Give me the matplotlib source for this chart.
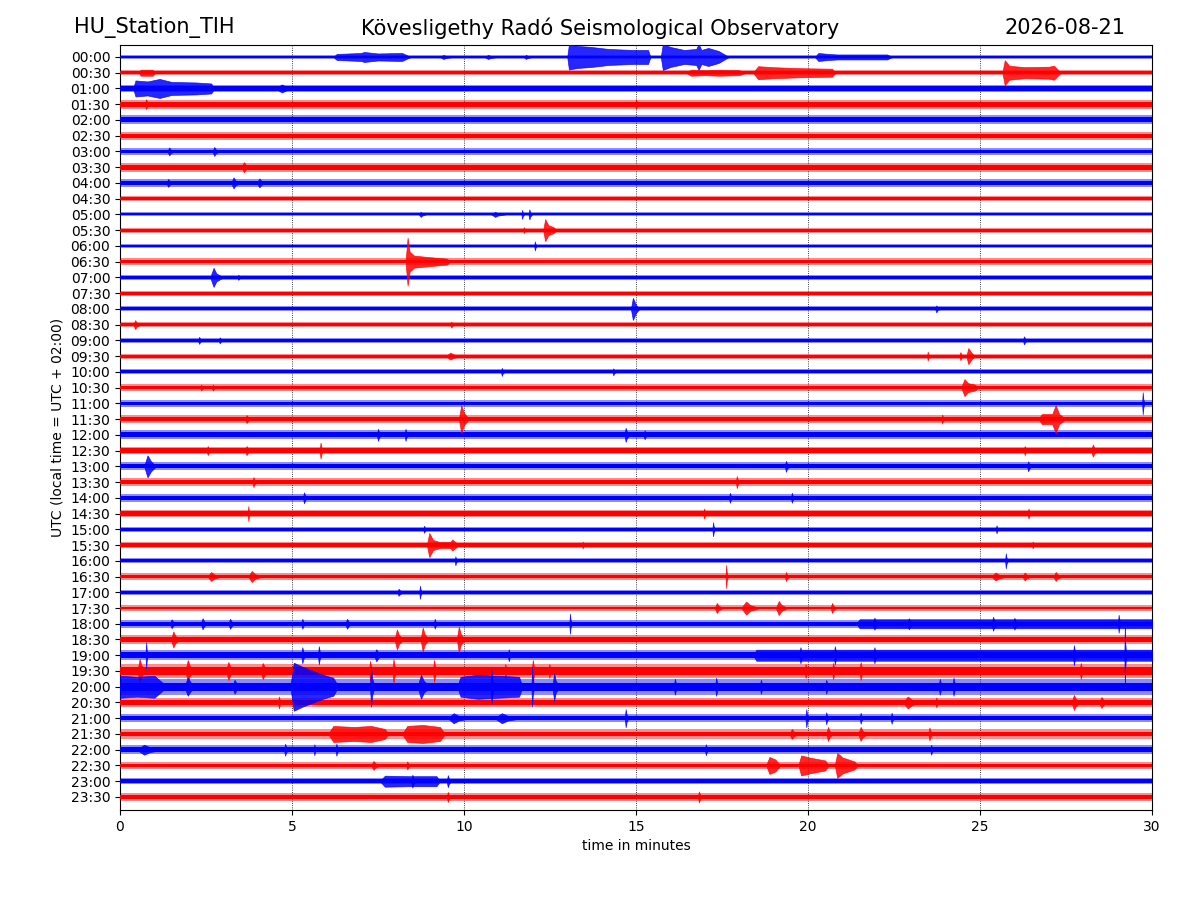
import matplotlib
matplotlib.use("Agg")
import matplotlib.pyplot as plt
import numpy as np

# ---------------- data ----------------
ROW_LABELS = ["00:00", "00:30", "01:00", "01:30", "02:00", "02:30", "03:00", "03:30",
              "04:00", "04:30", "05:00", "05:30", "06:00", "06:30", "07:00", "07:30",
              "08:00", "08:30", "09:00", "09:30", "10:00", "10:30", "11:00", "11:30",
              "12:00", "12:30", "13:00", "13:30", "14:00", "14:30", "15:00", "15:30",
              "16:00", "16:30", "17:00", "17:30", "18:00", "18:30", "19:00", "19:30",
              "20:00", "20:30", "21:00", "21:30", "22:00", "22:30", "23:00", "23:30"]

# typical background noise half-amplitude of each trace (trace units)
NOISE = [1.5, 2.0, 3.0, 3.5, 3.5, 3.0, 2.5, 3.5,
         3.0, 2.0, 1.5, 2.0, 1.5, 2.5, 2.0, 2.0,
         2.0, 2.0, 2.0, 2.0, 2.0, 2.5, 2.5, 3.0,
         3.5, 3.0, 3.0, 3.0, 3.0, 3.0, 2.0, 2.5,
         2.0, 2.5, 2.0, 2.0, 3.0, 3.5, 4.0, 5.5,
         6.0, 3.5, 3.0, 3.5, 3.5, 2.5, 2.5, 3.0]

# short bursts: (row, onset minute, duration in minutes, peak half-amplitude)
BURSTS = [
    ("00:00", 9.4, 0.3, 2), ("00:00", 10.7, 0.3, 2), ("00:00", 11.8, 0.2, 2),
    ("01:00", 4.7, 0.5, 4),
    ("01:30", 0.76, 0.1, 5), ("01:30", 15.0, 0.1, 4.5),
    ("03:00", 2.74, 0.15, 4.5), ("03:00", 1.43, 0.15, 4),
    ("03:30", 3.6, 0.2, 5),
    ("04:00", 3.3, 0.2, 5.5), ("04:00", 4.05, 0.2, 4.5), ("04:00", 1.4, 0.15, 4),
    ("05:00", 8.74, 0.15, 2.5), ("05:00", 10.9, 0.3, 2.5), ("05:00", 11.69, 0.06, 4.5),
    ("05:00", 11.9, 0.08, 5),
    ("05:30", 11.74, 0.06, 3),
    ("06:00", 12.06, 0.06, 4.5),
    ("07:00", 3.44, 0.1, 2.5),
    ("08:00", 23.73, 0.1, 3.5),
    ("08:30", 0.44, 0.15, 4.5), ("08:30", 9.63, 0.1, 3),
    ("09:00", 2.3, 0.1, 3.5), ("09:00", 2.9, 0.1, 3), ("09:00", 26.28, 0.1, 4),
    ("09:30", 9.6, 0.35, 3.5), ("09:30", 23.48, 0.06, 4.5), ("09:30", 24.43, 0.1, 4),
    ("10:00", 11.1, 0.08, 4), ("10:00", 14.34, 0.08, 3.5),
    ("10:30", 2.36, 0.1, 3), ("10:30", 2.7, 0.1, 3),
    ("11:00", 29.73, 0.05, 11),
    ("11:30", 3.68, 0.15, 4), ("11:30", 23.9, 0.08, 4.5),
    ("12:00", 7.5, 0.1, 6), ("12:00", 8.3, 0.08, 6), ("12:00", 14.7, 0.12, 7),
    ("12:00", 15.25, 0.1, 4.5),
    ("12:30", 5.83, 0.08, 8), ("12:30", 28.28, 0.15, 6), ("12:30", 26.3, 0.1, 4.5),
    ("12:30", 3.68, 0.15, 4.5), ("12:30", 2.55, 0.1, 4.5),
    ("13:00", 19.36, 0.1, 5.5), ("13:00", 26.4, 0.1, 5),
    ("13:30", 3.88, 0.1, 5), ("13:30", 17.93, 0.08, 6),
    ("14:00", 5.35, 0.1, 5.5), ("14:00", 17.73, 0.08, 5), ("14:00", 19.53, 0.08, 5),
    ("14:30", 3.73, 0.05, 7.5), ("14:30", 26.41, 0.08, 5), ("14:30", 16.98, 0.08, 5),
    ("15:00", 17.24, 0.06, 7), ("15:00", 8.84, 0.08, 3.5), ("15:00", 25.48, 0.06, 4),
    ("15:30", 13.45, 0.06, 3.5), ("15:30", 26.53, 0.06, 3.5),
    ("16:00", 25.75, 0.06, 7.5), ("16:00", 9.75, 0.06, 4.5),
    ("16:30", 2.65, 0.3, 4.5), ("16:30", 3.83, 0.3, 5.5), ("16:30", 17.62, 0.05, 11.5),
    ("16:30", 19.36, 0.1, 4.5), ("16:30", 25.45, 0.35, 4), ("16:30", 26.3, 0.2, 4),
    ("16:30", 27.2, 0.2, 4.5),
    ("17:00", 8.72, 0.06, 6.5), ("17:00", 8.1, 0.15, 3.5),
    ("17:30", 17.35, 0.18, 5), ("17:30", 18.2, 0.4, 6.5), ("17:30", 19.15, 0.25, 7),
    ("17:30", 20.7, 0.13, 5),
    ("18:00", 1.5, 0.15, 4.5), ("18:00", 2.4, 0.15, 5.5), ("18:00", 3.2, 0.15, 5),
    ("18:00", 5.3, 0.1, 5), ("18:00", 6.6, 0.15, 5), ("18:00", 9.15, 0.08, 5),
    ("18:00", 13.08, 0.05, 10), ("18:00", 21.93, 0.15, 6), ("18:00", 22.93, 0.15, 5.5),
    ("18:00", 25.38, 0.12, 7), ("18:00", 26.0, 0.12, 6), ("18:00", 29.03, 0.06, 9),
    ("18:30", 1.55, 0.2, 8), ("18:30", 8.05, 0.2, 10), ("18:30", 8.8, 0.18, 12),
    ("18:30", 9.85, 0.17, 13),
    ("19:00", 0.76, 0.05, 13), ("19:00", 5.3, 0.1, 8), ("19:00", 5.78, 0.08, 9),
    ("19:00", 7.45, 0.2, 6), ("19:00", 11.3, 0.08, 6), ("19:00", 19.78, 0.1, 8),
    ("19:00", 20.78, 0.1, 9), ("19:00", 21.93, 0.1, 8), ("19:00", 27.73, 0.08, 10),
    ("19:00", 29.21, 0.04, 28),
    ("19:30", 0.57, 0.18, 12), ("19:30", 1.97, 0.2, 11), ("19:30", 3.15, 0.2, 9),
    ("19:30", 4.15, 0.2, 8), ("19:30", 7.27, 0.1, 10), ("19:30", 7.95, 0.1, 12),
    ("19:30", 9.13, 0.1, 11), ("19:30", 11.2, 0.08, 7), ("19:30", 12.0, 0.1, 11),
    ("19:30", 12.48, 0.08, 7), ("19:30", 19.93, 0.1, 7), ("19:30", 20.73, 0.1, 8),
    ("19:30", 21.53, 0.1, 9), ("19:30", 27.93, 0.1, 8),
    ("20:00", 1.97, 0.3, 9), ("20:00", 3.33, 0.2, 7), ("20:00", 7.3, 0.1, 20),
    ("20:00", 8.75, 0.3, 12), ("20:00", 10.8, 0.08, 17), ("20:00", 11.98, 0.06, 20),
    ("20:00", 12.62, 0.15, 14), ("20:00", 16.13, 0.1, 8), ("20:00", 17.33, 0.1, 9),
    ("20:00", 18.63, 0.1, 7), ("20:00", 20.53, 0.1, 7), ("20:00", 23.83, 0.1, 8),
    ("20:00", 24.23, 0.1, 9),
    ("20:30", 4.62, 0.08, 6), ("20:30", 22.9, 0.4, 6), ("20:30", 23.73, 0.08, 5),
    ("20:30", 27.73, 0.2, 7.5), ("20:30", 28.53, 0.2, 5.5),
    ("21:00", 9.7, 0.5, 5), ("21:00", 11.1, 0.6, 5), ("21:00", 14.7, 0.08, 9),
    ("21:00", 19.95, 0.08, 9), ("21:00", 20.53, 0.08, 6), ("21:00", 21.53, 0.08, 5.5),
    ("21:00", 22.43, 0.08, 5.5),
    ("21:30", 19.53, 0.2, 5), ("21:30", 20.58, 0.15, 7), ("21:30", 21.53, 0.2, 7),
    ("21:30", 23.53, 0.1, 6.5),
    ("22:00", 0.7, 0.6, 5), ("22:00", 4.8, 0.1, 6), ("22:00", 5.65, 0.06, 5.5),
    ("22:00", 6.29, 0.08, 6), ("22:00", 17.03, 0.08, 5.5), ("22:00", 23.58, 0.08, 5),
    ("22:30", 7.37, 0.2, 4.5), ("22:30", 8.35, 0.1, 4),
    ("23:00", 8.5, 0.1, 6.5), ("23:00", 9.53, 0.1, 6),
    ("23:30", 9.53, 0.1, 5), ("23:30", 16.83, 0.1, 5.5),
]

# longer events: (row, envelope nodes [(minute, half-amplitude), ...])
EVENTS = [
    ("00:00", [(6.2, 0), (6.3, 3), (7.0, 4), (7.1, 5), (7.5, 3.5), (8.2, 4), (8.45, 0)]),
    ("00:00", [(13.0, 0), (13.05, 12.5), (13.3, 11), (13.7, 10), (14.2, 8), (14.9, 7),
               (15.35, 7), (15.42, 0)]),
    ("00:00", [(15.72, 0), (15.78, 13), (16.0, 10), (16.4, 7), (16.75, 8), (16.82, 13),
               (16.9, 7), (17.1, 9), (17.4, 6), (17.7, 0)]),
    ("00:00", [(20.2, 0), (20.3, 4), (20.6, 3), (20.85, 2.5), (22.3, 2.5), (22.45, 0)]),
    ("00:30", [(0.55, 0), (0.6, 3), (0.95, 3), (1.02, 0)]),
    ("00:30", [(16.45, 0), (16.6, 3), (17.0, 2.5), (17.4, 3), (18.0, 2.5), (18.2, 0)]),
    ("00:30", [(18.4, 0), (18.55, 6.5), (19.0, 5.5), (19.8, 4.5), (20.7, 4), (20.8, 0)]),
    ("00:30", [(25.65, 0), (25.72, 12.5), (25.85, 7), (26.3, 5.5), (27.0, 6), (27.15, 7),
               (27.35, 0)]),
    ("01:00", [(0.38, 0), (0.45, 8), (0.8, 7), (1.15, 9.5), (1.5, 6.5), (2.2, 6),
               (2.65, 5), (2.75, 0)]),
    ("05:30", [(12.3, 0), (12.36, 11), (12.45, 5), (12.6, 3), (12.7, 0)]),
    ("06:30", [(8.3, 0), (8.36, 24), (8.42, 10), (8.55, 6), (9.0, 4.5), (9.5, 3), (9.6, 0)]),
    ("07:00", [(2.62, 0), (2.72, 9.5), (2.8, 4), (3.0, 0)]),
    ("08:00", [(14.85, 0), (14.91, 11), (15.0, 4), (15.1, 0)]),
    ("09:30", [(24.6, 0), (24.66, 8), (24.75, 3.5), (24.85, 0)]),
    ("10:30", [(24.45, 0), (24.55, 8.5), (24.65, 4.5), (24.85, 3), (24.95, 0)]),
    ("11:30", [(9.85, 0), (9.92, 14), (10.0, 6), (10.15, 0)]),
    ("11:30", [(26.7, 0), (26.8, 5), (27.1, 5), (27.2, 14), (27.3, 5), (27.5, 0)]),
    ("13:00", [(0.7, 0), (0.8, 11), (0.9, 5), (1.05, 0)]),
    ("15:30", [(8.92, 0), (8.99, 12), (9.1, 5), (9.3, 3), (9.6, 3), (9.66, 5.5),
               (9.75, 3), (9.85, 0)]),
    ("18:00", [(21.4, 0), (21.5, 4.5), (30.0, 4.5)]),
    ("19:00", [(18.4, 0), (18.5, 5.5), (30.0, 5.5)]),
    ("20:00", [(0.0, 11), (0.5, 10), (1.0, 11), (1.37, 0)]),
    ("20:00", [(4.95, 0), (5.05, 24), (5.3, 20), (5.6, 16), (5.9, 12), (6.2, 9), (6.35, 0)]),
    ("20:00", [(9.8, 0), (9.9, 10), (10.4, 12), (11.0, 11), (11.6, 10), (11.7, 0)]),
    ("21:30", [(6.05, 0), (6.2, 8), (6.8, 7), (7.3, 8), (7.7, 5), (7.8, 0)]),
    ("21:30", [(8.2, 0), (8.35, 8), (8.8, 9), (9.3, 7), (9.45, 0)]),
    ("22:30", [(18.78, 0), (18.88, 8.5), (19.05, 6), (19.2, 0)]),
    ("22:30", [(19.72, 0), (19.8, 10), (20.1, 7.5), (20.5, 5), (20.6, 0)]),
    ("22:30", [(20.78, 0), (20.85, 12.5), (21.0, 8), (21.35, 4), (21.45, 0)]),
    ("23:00", [(7.55, 0), (7.7, 5.5), (8.4, 5), (9.2, 5), (9.3, 0)]),
]

X_TICKS = [0, 5, 10, 15, 20, 25, 30]
TITLE_LEFT = "HU_Station_TIH"
TITLE_MID = "Kövesligethy Radó Seismological Observatory"
TITLE_RIGHT = "2026-08-21"

# ---------------- drawing ----------------
COLORS = ["#0000ff", "#ff0000"]
UNIT = 1.0 / 15.74          # trace units -> row spacing
DURATION = 30.0

fig = plt.figure(figsize=(12, 9), dpi=100)
ax = fig.add_axes([0.1, 0.1, 0.86, 0.85])

row_index = {lab: i for i, lab in enumerate(ROW_LABELS)}


def draw_envelope(i, t, e, c):
    ax.fill_between(t, [i - v for v in e], [i + v for v in e], color=c, alpha=0.85,
                    linewidth=0.5, edgecolor=c, zorder=4)


for i, lab in enumerate(ROW_LABELS):
    c = COLORS[i % 2]
    a = NOISE[i] * UNIT
    ax.fill_between([0, DURATION], i - 1.3 * a, i + 1.3 * a, color=c, alpha=0.45,
                    linewidth=0, zorder=2)
    ax.fill_between([0, DURATION], i - 0.7 * a, i + 0.7 * a, color=c, alpha=1.0,
                    linewidth=0, zorder=3)

for lab, t0, hw, amp in BURSTS:
    i = row_index[lab]
    # seismic-burst glyph: sharp onset, decaying coda
    t = [t0 - 0.35 * hw, t0, t0 + 0.3 * hw, t0 + hw]
    e = [0, amp * UNIT, 0.45 * amp * UNIT, 0]
    draw_envelope(i, t, e, COLORS[i % 2])

for lab, nodes in EVENTS:
    i = row_index[lab]
    t = [n[0] for n in nodes]
    e = [n[1] * UNIT for n in nodes]
    draw_envelope(i, t, e, COLORS[i % 2])

for xv in X_TICKS[1:-1]:
    ax.axvline(xv, color="black", linestyle=":", linewidth=0.6, zorder=1)

ax.set_xlim(0, DURATION)
ax.set_ylim(len(ROW_LABELS) - 1 + 0.83, -0.76)
ax.set_xticks(X_TICKS)
ax.set_yticks(range(len(ROW_LABELS)))
ax.set_yticklabels(ROW_LABELS)
ax.set_xlabel("time in minutes")
ax.set_ylabel("UTC (local time = UTC + 02:00)")

fig.text(0.062, 0.969, TITLE_LEFT, fontsize=15, ha="left", va="center")
fig.text(0.5, 0.969, TITLE_MID, fontsize=15, ha="center", va="center")
fig.text(0.938, 0.969, TITLE_RIGHT, fontsize=15, ha="right", va="center")

fig.savefig("out.png", dpi=100)
